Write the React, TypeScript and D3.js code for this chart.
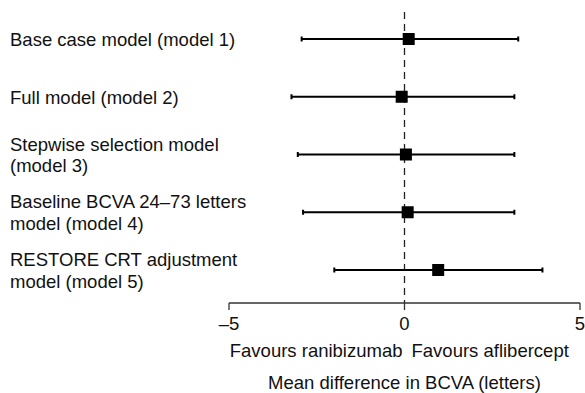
import * as d3 from 'd3'

const models = [
  ['Base case model (model 1)'],
  ['Full model (model 2)'],
  ['Stepwise selection model', '(model 3)'],
  ['Baseline BCVA 24\u201373 letters', 'model (model 4)'],
  ['RESTORE CRT adjustment', 'model (model 5)'],
]
const means = [0.12, -0.08, 0.04, 0.09, 0.96]
const lower = [-2.93, -3.22, -3.04, -2.89, -2.0]
const upper = [3.24, 3.13, 3.13, 3.13, 3.93]
const ticks = [-5, 0, 5]

export default function App() {
  const width = 585
  const height = 393
  const font = 'Arial, "Liberation Sans", sans-serif'
  const fs = 18.5

  const x = d3.scaleLinear().domain([-5, 5]).range([229, 580])
  const y = d3.scalePoint<number>()
    .domain(d3.range(models.length))
    .range([39, 270])
  const axisY = 303
  const box = 12

  return (
    <svg width={width} height={height} style={{ position: 'absolute', left: 0, top: 0 }}>
      <rect width={width} height={height} fill="white" />
      {/* zero line */}
      <line x1={x(0)} x2={x(0)} y1={12} y2={axisY} stroke="#222" strokeWidth={1.3} strokeDasharray="7,5" />
      {models.map((lines, i) => {
        const cy = y(i)!
        const first = lines.length === 1 ? cy + 7 : cy - 4
        return (
          <g key={i}>
            <text x={10} y={first} fontFamily={font} fontSize={fs} fill="#111">
              {lines.map((l, j) => (
                <tspan key={j} x={10} dy={j === 0 ? 0 : 21.5}>{l}</tspan>
              ))}
            </text>
            <line x1={x(lower[i])} x2={x(upper[i])} y1={cy} y2={cy} stroke="#000" strokeWidth={2} />
            <line x1={x(lower[i])} x2={x(lower[i])} y1={cy - 2.5} y2={cy + 2.5} stroke="#000" strokeWidth={2} />
            <line x1={x(upper[i])} x2={x(upper[i])} y1={cy - 2.5} y2={cy + 2.5} stroke="#000" strokeWidth={2} />
            <rect x={x(means[i]) - box / 2} y={cy - box / 2} width={box} height={box} fill="#000" />
          </g>
        )
      })}
      {/* x axis */}
      <line x1={x(-5)} x2={x(5)} y1={axisY} y2={axisY} stroke="#333" strokeWidth={1.3} />
      {ticks.map(t => (
        <g key={t}>
          <line x1={x(t)} x2={x(t)} y1={axisY} y2={axisY + 7} stroke="#333" strokeWidth={1.3} />
          <text x={x(t)} y={330} textAnchor="middle" fontFamily={font} fontSize={fs} fill="#111">
            {t < 0 ? '\u2013' + Math.abs(t) : t}
          </text>
        </g>
      ))}
      <text x={x(0) - 2} y={357} textAnchor="end" fontFamily={font} fontSize={fs} fill="#111">Favours ranibizumab</text>
      <text x={x(0) + 7} y={357} textAnchor="start" fontFamily={font} fontSize={fs} fill="#111">Favours aflibercept</text>
      <text x={x(0)} y={389} textAnchor="middle" fontFamily={font} fontSize={fs} fill="#111">Mean difference in BCVA (letters)</text>
    </svg>
  )
}
